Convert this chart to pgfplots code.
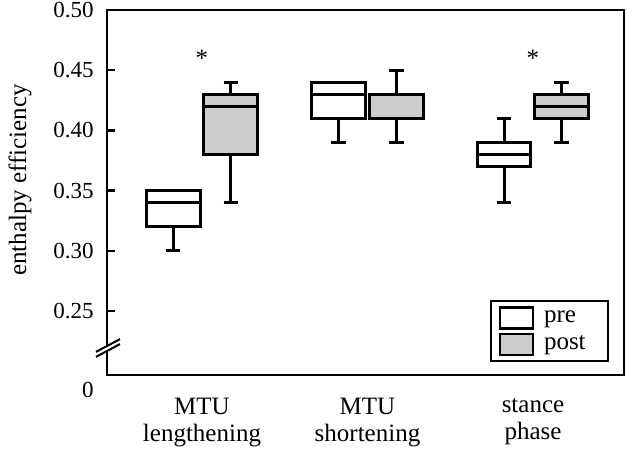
\documentclass[border=0pt]{standalone}
\usepackage{pgfplots}
\pgfplotsset{compat=1.18}
\usepgfplotslibrary{statistics}
\usepackage{fontspec}
\setmainfont{Liberation Serif}

\begin{document}
\begin{tikzpicture}
\path (-53.5pt,-37.5pt) rectangle (260pt,187.5pt);
\begin{axis}[name=ax, at={(0,0)}, anchor=south west, scale only axis,
  width=258.5pt, height=182.5pt,
  xmin=0.426, xmax=3.55, ymin=0.197, ymax=0.50,
  axis line style={line width=1.2pt},
  xtick={1,2,3},
  xticklabels={{MTU\\lengthening},{MTU\\shortening},{stance\\phase}},
  xtick style={draw=none},
  xticklabel style={font=\fontsize{12.5}{13.5}\selectfont, align=center, inner sep=0pt, yshift=-11.5pt},
  ytick={0.25,0.30,0.35,0.40,0.45,0.50},
  yticklabels={0.25,0.30,0.35,0.40,0.45,0.50},
  yticklabel style={font=\fontsize{11.5}{13}\selectfont, inner sep=0pt, xshift=-6.5pt},
  xtick pos=bottom, ytick pos=left, tick align=inside,
  ytick style={line width=1.2pt, black}, major tick length=4pt,
  legend style={at={(1,0)}, anchor=south east, xshift=-7.5pt, yshift=6.5pt,
    draw=black, line width=1pt, font=\fontsize{12.5}{13}\selectfont,
    inner xsep=4pt, inner ysep=2.5pt, row sep=1.5pt, cells={anchor=west},
    nodes={inner xsep=5pt, inner ysep=1pt}},
  boxplot/draw direction=y,
]
\addlegendimage{legend image code/.code={\draw[line width=1.2pt, draw=black, fill=white] (0pt,-5.25pt) rectangle (16.5pt,5.25pt);}}
\addlegendentry{\makebox[23pt][l]{pre}}
\addlegendimage{legend image code/.code={\draw[line width=1.2pt, draw=black, fill=gray!40] (0pt,-5.25pt) rectangle (16.5pt,5.25pt);}}
\addlegendentry{\makebox[23pt][l]{post}}
\addplot[draw=black, fill=white, line width=1.5pt,
  boxplot prepared={lower whisker=0.30, lower quartile=0.32, median=0.34, upper quartile=0.35, upper whisker=0.35, draw position=0.825, box extend=0.326, whisker extend=0.09}] coordinates {};
\addplot[draw=black, fill=gray!40, line width=1.5pt,
  boxplot prepared={lower whisker=0.34, lower quartile=0.38, median=0.42, upper quartile=0.43, upper whisker=0.44, draw position=1.175, box extend=0.326, whisker extend=0.09}] coordinates {};
\addplot[draw=black, fill=white, line width=1.5pt,
  boxplot prepared={lower whisker=0.39, lower quartile=0.41, median=0.43, upper quartile=0.44, upper whisker=0.44, draw position=1.825, box extend=0.326, whisker extend=0.09}] coordinates {};
\addplot[draw=black, fill=gray!40, line width=1.5pt,
  boxplot prepared={lower whisker=0.39, lower quartile=0.41, median=0.43, upper quartile=0.43, upper whisker=0.45, draw position=2.175, box extend=0.326, whisker extend=0.09}] coordinates {};
\addplot[draw=black, fill=white, line width=1.5pt,
  boxplot prepared={lower whisker=0.34, lower quartile=0.37, median=0.38, upper quartile=0.39, upper whisker=0.41, draw position=2.825, box extend=0.326, whisker extend=0.09}] coordinates {};
\addplot[draw=black, fill=gray!40, line width=1.5pt,
  boxplot prepared={lower whisker=0.39, lower quartile=0.41, median=0.42, upper quartile=0.43, upper whisker=0.44, draw position=3.175, box extend=0.326, whisker extend=0.09}] coordinates {};
\node[font=\fontsize{12.5}{15}\selectfont, anchor=base, inner sep=0pt] at (axis cs:1,0.453) {*};
\node[font=\fontsize{12.5}{15}\selectfont, anchor=base, inner sep=0pt] at (axis cs:3,0.453) {*};
\end{axis}
% axis break
\draw[white, line width=2.6pt] ([shift={(-3pt,-1.6pt)}]ax.south west) ++(0pt,13.5pt) -- ++(6pt,3.2pt);
\draw[black, line width=1pt] ([shift={(-5.5pt,-3.2pt)}]ax.south west) ++(0pt,13.5pt) ++(0pt,-1.25pt) -- ++(12pt,6.4pt);
\draw[black, line width=1pt] ([shift={(-5.5pt,-3.2pt)}]ax.south west) ++(0pt,13.5pt) ++(0pt,1.25pt) -- ++(12pt,6.4pt);
\node[font=\fontsize{11.5}{13}\selectfont, anchor=east, inner sep=0pt] at ([shift={(-6.5pt,-7.5pt)}]ax.south west) {0};
\node[font=\fontsize{12.5}{15}\selectfont, rotate=90, anchor=south, inner sep=0pt] at ([shift={(-37.5pt,97.5pt)}]ax.south west) {enthalpy efficiency};
\end{tikzpicture}
\end{document}
